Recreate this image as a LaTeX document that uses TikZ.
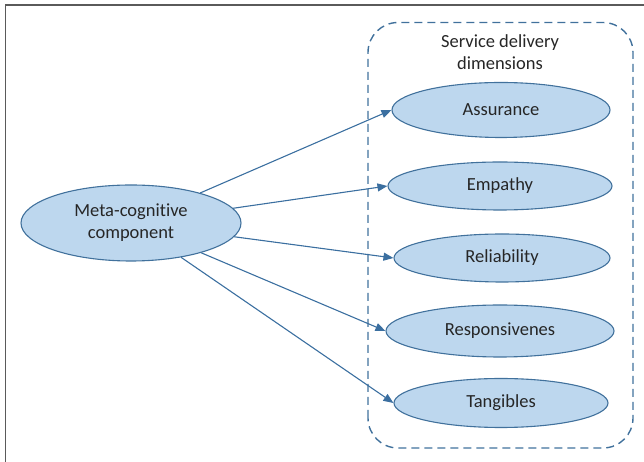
\documentclass[tikz,border=0pt]{standalone}
\usepackage{fontspec}
\setmainfont[Ligatures={NoCommon,NoContextual}]{Carlito}
\usetikzlibrary{arrows.meta,shapes.geometric}
\definecolor{fillblue}{HTML}{BDD7EE}
\definecolor{edgeblue}{HTML}{41719C}
\definecolor{linkblue}{HTML}{3B6FA0}
\definecolor{txt}{HTML}{262626}
\definecolor{framegray}{HTML}{5A5A5A}
\begin{document}
\begin{tikzpicture}[x=1pt,y=1pt,
  every node/.style={font=\fontsize{18.5}{22}\selectfont, text=txt},
  dim/.style={ellipse, draw=edgeblue, fill=fillblue, line width=1.1pt, inner sep=0pt},
  link/.style={draw=linkblue, line width=1.1pt, -{Triangle[length=10pt,width=8pt]}}]
\useasboundingbox (0,0) rectangle (644,462);
% frame edges
\draw[framegray, line width=1.6pt] (5.5,0) -- (5.5,457) -- (644,457);
% dashed group box
\draw[edgeblue, line width=1.4pt, dash pattern=on 8pt off 5pt, rounded corners=30pt]
  (368,14) rectangle (633,439.5);
\node[align=center] (title) at (500,410) {Service delivery\\dimensions};
% nodes
\node[dim, minimum width=220pt, minimum height=76pt, align=center] (meta) at (131,239) {Meta-cognit\kern0pt ive\\component};
\node[dim, minimum width=218pt, minimum height=55pt] (asr) at (501,352) {Assurance};
\node[dim, minimum width=224pt, minimum height=48pt] (emp) at (500,276) {Empathy};
\node[dim, minimum width=216pt, minimum height=48pt] (rel) at (502,204) {Reliability};
\node[dim, minimum width=228pt, minimum height=52pt] (res) at (500,131) {Responsivenes};
\node[dim, minimum width=214pt, minimum height=49pt] (tan) at (501,59) {Tangibles};
% connectors
\draw[link] (meta) -- (asr.west);
\draw[link] (meta) -- (emp.west);
\draw[link] (meta) -- (rel.west);
\draw[link] (meta) -- (res.west);
\draw[link] (meta) -- (tan.west);
\end{tikzpicture}
\end{document}
